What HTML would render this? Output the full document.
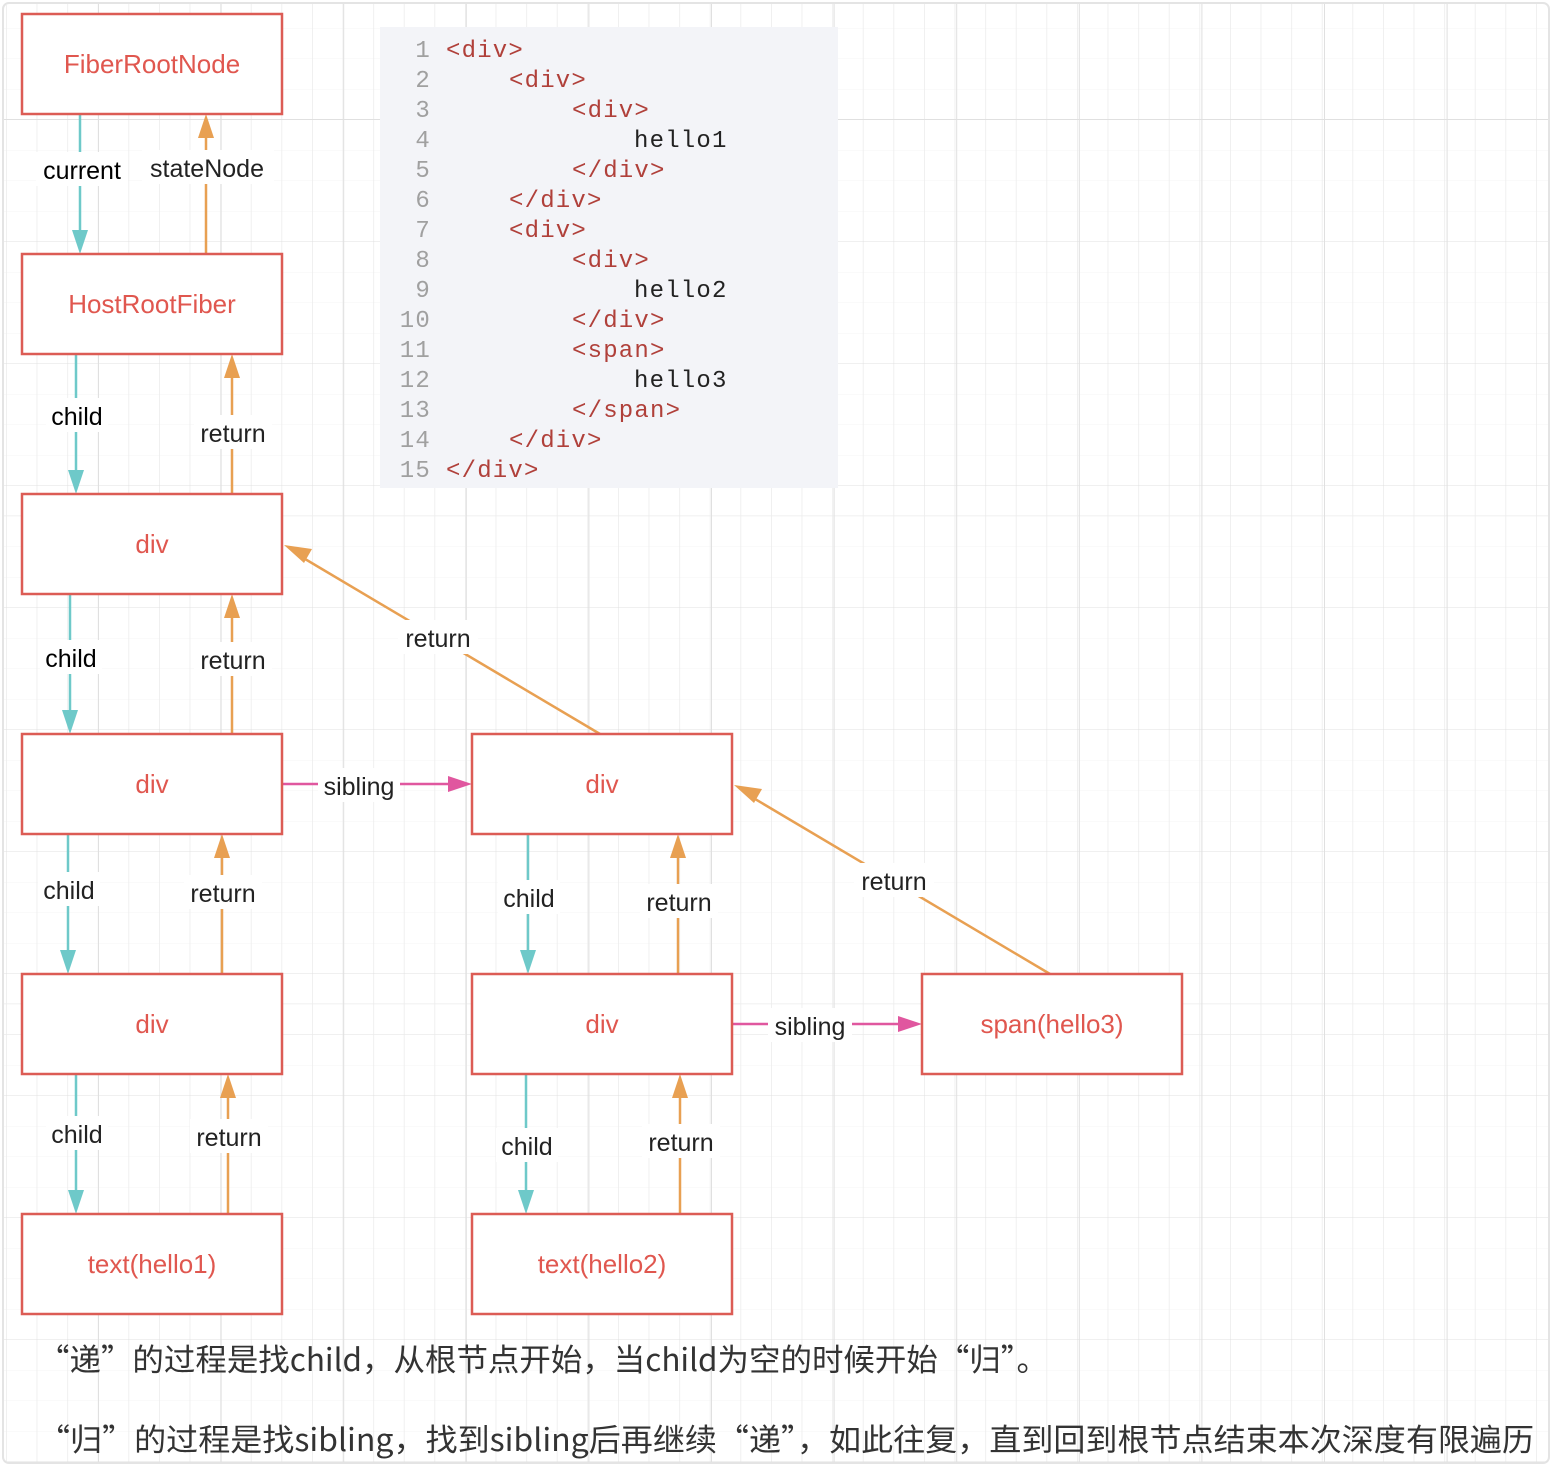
<!DOCTYPE html>
<html><head><meta charset="utf-8"><style>
html,body{margin:0;padding:0;background:#fff}
body{width:1552px;height:1466px;position:relative;overflow:hidden;font-family:"Liberation Sans","Noto Sans CJK SC",sans-serif}
svg{position:absolute;left:0;top:0}
</style></head><body>
<svg width="1552" height="1466" viewBox="0 0 1552 1466">
<defs>
<pattern id="minor" x="6" y="-3" width="30.6" height="30.5" patternUnits="userSpaceOnUse">
<path d="M0 0V30.5M0 0H30.6" stroke="#ebebeb" stroke-width="1.5" fill="none"/>
</pattern>
<pattern id="major" x="98" y="119" width="122.6" height="122" patternUnits="userSpaceOnUse">
<path d="M0 0V122M0 0H122.6" stroke="#e0e0e0" stroke-width="2" fill="none"/>
</pattern>
</defs>
<rect x="3" y="3" width="1546" height="1460" rx="6" fill="#fff" stroke="#e4e4e4" stroke-width="2"/>
<rect x="4" y="4" width="1544" height="1458" fill="url(#minor)"/>
<rect x="4" y="4" width="1544" height="1458" fill="url(#major)"/>

<!-- code block -->
<rect x="380" y="27" width="458" height="461" fill="#f3f4f8"/>
<g font-family="Liberation Mono,monospace" font-size="24" letter-spacing="1.2">
<g fill="#a0a0a0" text-anchor="end">
<text x="431" y="57">1</text><text x="431" y="87">2</text><text x="431" y="117">3</text><text x="431" y="147">4</text><text x="431" y="177">5</text><text x="431" y="207">6</text><text x="431" y="237">7</text><text x="431" y="267">8</text><text x="431" y="297">9</text><text x="431" y="327">10</text><text x="431" y="357">11</text><text x="431" y="387">12</text><text x="431" y="417">13</text><text x="431" y="447">14</text><text x="431" y="477">15</text>
</g>
<g fill="#b0403a">
<text x="446" y="57">&lt;div&gt;</text>
<text x="509" y="87">&lt;div&gt;</text>
<text x="572" y="117">&lt;div&gt;</text>
<text x="572" y="177">&lt;/div&gt;</text>
<text x="509" y="207">&lt;/div&gt;</text>
<text x="509" y="237">&lt;div&gt;</text>
<text x="572" y="267">&lt;div&gt;</text>
<text x="572" y="327">&lt;/div&gt;</text>
<text x="572" y="357">&lt;span&gt;</text>
<text x="572" y="417">&lt;/span&gt;</text>
<text x="509" y="447">&lt;/div&gt;</text>
<text x="446" y="477">&lt;/div&gt;</text>
</g>
<g fill="#222">
<text x="634" y="147">hello1</text><text x="634" y="297">hello2</text><text x="634" y="387">hello3</text>
</g>
</g>

<!-- connectors -->
<g stroke-width="2.5" fill="none">
<g stroke="#6ec9c9">
<path d="M80 114V234"/><path d="M76 354V474"/><path d="M70 594V714"/><path d="M68 834V954"/><path d="M76 1074V1194"/><path d="M528 834V954"/><path d="M526 1074V1194"/>
</g>
<g stroke="#e8a052">
<path d="M206 254V134"/><path d="M232 494V374"/><path d="M232 734V614"/><path d="M222 974V854"/><path d="M228 1214V1094"/><path d="M678 974V854"/><path d="M680 1214V1094"/>
<path d="M600 734L300 556"/><path d="M1050 974L750 796"/>
</g>
<g stroke="#e0579f"><path d="M282 784H452"/><path d="M732 1024H902"/></g>
</g>
<g fill="#6ec9c9">
<path d="M72 230L88 230L80 254z"/><path d="M68 470L84 470L76 494z"/><path d="M62 710L78 710L70 734z"/><path d="M60 950L76 950L68 974z"/><path d="M68 1190L84 1190L76 1214z"/><path d="M520 950L536 950L528 974z"/><path d="M518 1190L534 1190L526 1214z"/>
</g>
<g fill="#e8a052">
<path d="M198 138L214 138L206 114z"/><path d="M224 378L240 378L232 354z"/><path d="M224 618L240 618L232 594z"/><path d="M214 858L230 858L222 834z"/><path d="M220 1098L236 1098L228 1074z"/><path d="M670 858L686 858L678 834z"/><path d="M672 1098L688 1098L680 1074z"/>
<path d="M284 545L312 549L304 563z" /><path d="M734 785L762 789L754 803z"/>
</g>
<g fill="#e0579f"><path d="M448 776L472 784L448 792z"/><path d="M898 1016L922 1024L898 1032z"/></g>

<!-- labels -->
<g font-size="25" text-anchor="middle" fill="#222">
<rect x="36" y="152" width="92" height="34" fill="#fff"/><text x="82" y="179" fill="#000">current</text>
<rect x="142" y="150" width="132" height="34" fill="#fff"/><text x="207" y="177">stateNode</text>
<rect x="46" y="398" width="62" height="34" fill="#fff"/><text x="77" y="425" fill="#000">child</text>
<rect x="194" y="415" width="78" height="34" fill="#fff"/><text x="233" y="442">return</text>
<rect x="40" y="640" width="62" height="34" fill="#fff"/><text x="71" y="667" fill="#000">child</text>
<rect x="194" y="642" width="78" height="34" fill="#fff"/><text x="233" y="669">return</text>
<rect x="38" y="872" width="62" height="34" fill="#fff"/><text x="69" y="899">child</text>
<rect x="184" y="875" width="78" height="34" fill="#fff"/><text x="223" y="902">return</text>
<rect x="46" y="1116" width="62" height="34" fill="#fff"/><text x="77" y="1143">child</text>
<rect x="190" y="1119" width="78" height="34" fill="#fff"/><text x="229" y="1146">return</text>
<rect x="498" y="880" width="62" height="34" fill="#fff"/><text x="529" y="907">child</text>
<rect x="640" y="884" width="78" height="34" fill="#fff"/><text x="679" y="911">return</text>
<rect x="496" y="1128" width="62" height="34" fill="#fff"/><text x="527" y="1155">child</text>
<rect x="642" y="1124" width="78" height="34" fill="#fff"/><text x="681" y="1151">return</text>
<rect x="318" y="768" width="82" height="34" fill="#fff"/><text x="359" y="795">sibling</text>
<rect x="768" y="1008" width="84" height="34" fill="#fff"/><text x="810" y="1035">sibling</text>
<rect x="398" y="620" width="80" height="34" fill="#fff"/><text x="438" y="647">return</text>
<rect x="854" y="863" width="80" height="34" fill="#fff"/><text x="894" y="890">return</text>
</g>

<!-- nodes -->
<g fill="#fff" stroke="#dc5c55" stroke-width="2.5">
<rect x="22" y="14" width="260" height="100"/><rect x="22" y="254" width="260" height="100"/><rect x="22" y="494" width="260" height="100"/><rect x="22" y="734" width="260" height="100"/><rect x="22" y="974" width="260" height="100"/><rect x="22" y="1214" width="260" height="100"/>
<rect x="472" y="734" width="260" height="100"/><rect x="472" y="974" width="260" height="100"/><rect x="472" y="1214" width="260" height="100"/>
<rect x="922" y="974" width="260" height="100"/>
</g>
<g font-size="26" text-anchor="middle" fill="#e0574f">
<text x="152" y="73">FiberRootNode</text><text x="152" y="313">HostRootFiber</text><text x="152" y="553">div</text><text x="152" y="793">div</text><text x="152" y="1033">div</text><text x="152" y="1273">text(hello1)</text>
<text x="602" y="793">div</text><text x="602" y="1033">div</text><text x="602" y="1273">text(hello2)</text><text x="1052" y="1033">span(hello3)</text>
</g>
<g font-size="31" fill="#333" font-family="Noto Sans CJK SC,sans-serif">
<text x="38" y="1371" textLength="1010" lengthAdjust="spacingAndGlyphs">“递”的过程是找child，从根节点开始，当child为空的时候开始“归”。</text>
<text x="38" y="1451" textLength="1496" lengthAdjust="spacingAndGlyphs">“归”的过程是找sibling，找到sibling后再继续“递”，如此往复，直到回到根节点结束本次深度有限遍历</text>
</g>
</svg>
</body></html>
